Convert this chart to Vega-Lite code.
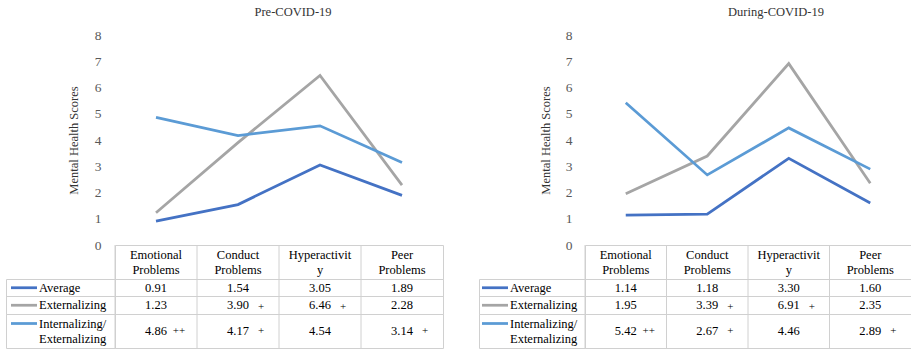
{
  "$schema": "https://vega.github.io/schema/vega-lite/v6.json",
  "padding": {"left": 5, "top": 5, "right": 0, "bottom": 0},
  "background": "white",
  "config": {
    "view": {"stroke": null},
    "text": {"font": "Liberation Serif", "fontSize": 12.5, "color": "#000000"},
    "rule": {"color": "#d0d0d0", "strokeWidth": 1}
  },
  "datasets": {
    "scores": [
      {"period": "Pre-COVID-19", "series": "Average", "problem": "Emotional Problems", "score": 0.91, "sig": ""},
      {"period": "Pre-COVID-19", "series": "Average", "problem": "Conduct Problems", "score": 1.54, "sig": ""},
      {"period": "Pre-COVID-19", "series": "Average", "problem": "Hyperactivity", "score": 3.05, "sig": ""},
      {"period": "Pre-COVID-19", "series": "Average", "problem": "Peer Problems", "score": 1.89, "sig": ""},
      {"period": "Pre-COVID-19", "series": "Externalizing", "problem": "Emotional Problems", "score": 1.23, "sig": ""},
      {"period": "Pre-COVID-19", "series": "Externalizing", "problem": "Conduct Problems", "score": 3.90, "sig": "+"},
      {"period": "Pre-COVID-19", "series": "Externalizing", "problem": "Hyperactivity", "score": 6.46, "sig": "+"},
      {"period": "Pre-COVID-19", "series": "Externalizing", "problem": "Peer Problems", "score": 2.28, "sig": ""},
      {"period": "Pre-COVID-19", "series": "Internalizing/Externalizing", "problem": "Emotional Problems", "score": 4.86, "sig": "++"},
      {"period": "Pre-COVID-19", "series": "Internalizing/Externalizing", "problem": "Conduct Problems", "score": 4.17, "sig": "+"},
      {"period": "Pre-COVID-19", "series": "Internalizing/Externalizing", "problem": "Hyperactivity", "score": 4.54, "sig": ""},
      {"period": "Pre-COVID-19", "series": "Internalizing/Externalizing", "problem": "Peer Problems", "score": 3.14, "sig": "+"},
      {"period": "During-COVID-19", "series": "Average", "problem": "Emotional Problems", "score": 1.14, "sig": ""},
      {"period": "During-COVID-19", "series": "Average", "problem": "Conduct Problems", "score": 1.18, "sig": ""},
      {"period": "During-COVID-19", "series": "Average", "problem": "Hyperactivity", "score": 3.30, "sig": ""},
      {"period": "During-COVID-19", "series": "Average", "problem": "Peer Problems", "score": 1.60, "sig": ""},
      {"period": "During-COVID-19", "series": "Externalizing", "problem": "Emotional Problems", "score": 1.95, "sig": ""},
      {"period": "During-COVID-19", "series": "Externalizing", "problem": "Conduct Problems", "score": 3.39, "sig": "+"},
      {"period": "During-COVID-19", "series": "Externalizing", "problem": "Hyperactivity", "score": 6.91, "sig": "+"},
      {"period": "During-COVID-19", "series": "Externalizing", "problem": "Peer Problems", "score": 2.35, "sig": ""},
      {"period": "During-COVID-19", "series": "Internalizing/Externalizing", "problem": "Emotional Problems", "score": 5.42, "sig": "++"},
      {"period": "During-COVID-19", "series": "Internalizing/Externalizing", "problem": "Conduct Problems", "score": 2.67, "sig": "+"},
      {"period": "During-COVID-19", "series": "Internalizing/Externalizing", "problem": "Hyperactivity", "score": 4.46, "sig": ""},
      {"period": "During-COVID-19", "series": "Internalizing/Externalizing", "problem": "Peer Problems", "score": 2.89, "sig": "+"}
    ],
    "headers": [
      {"problem": "Emotional Problems", "header": "Emotional\nProblems"},
      {"problem": "Conduct Problems", "header": "Conduct\nProblems"},
      {"problem": "Hyperactivity", "header": "Hyperactivit\ny"},
      {"problem": "Peer Problems", "header": "Peer\nProblems"}
    ],
    "rowlabels": [
      {"series": "Average", "label": "Average"},
      {"series": "Externalizing", "label": "Externalizing"},
      {"series": "Internalizing/Externalizing", "label": "Internalizing/\nExternalizing"}
    ]
  },
  "columns": 5,
  "spacing": 0,
  "bounds": "flush",
  "align": "each",
  "concat": [
    {"width": 109, "height": 1, "data": {"values": [{}]}, "mark": "text", "encoding": {"text": {"value": ""}}},
    {
      "width": 328, "height": 210,
      "title": {"text": "Pre-COVID-19", "frame": "group", "dx": 14, "offset": 10, "font": "Liberation Serif", "fontSize": 12.5, "fontWeight": "normal", "color": "#333333"},
      "data": {"name": "scores"},
      "transform": [{"filter": "datum.period === 'Pre-COVID-19'"}],
      "mark": {"type": "line", "strokeWidth": 2.75},
      "encoding": {
        "x": {"field": "problem", "type": "nominal", "scale": {"type": "point", "domain": ["Emotional Problems", "Conduct Problems", "Hyperactivity", "Peer Problems"], "padding": 0.5}, "axis": null},
        "y": {"field": "score", "type": "quantitative", "scale": {"domain": [0, 8], "nice": false},
          "axis": {"title": "Mental Health Scores", "values": [0, 1, 2, 3, 4, 5, 6, 7, 8], "format": "d", "grid": false, "domain": false, "ticks": false,
            "labelFont": "Liberation Serif", "labelFontSize": 13.5, "labelColor": "#595959", "labelPadding": 14,
            "titleFont": "Liberation Serif", "titleFontSize": 12.5, "titleFontWeight": "normal", "titleColor": "#333333", "titlePadding": 14}},
        "color": {"field": "series", "type": "nominal", "scale": {"domain": ["Average", "Externalizing", "Internalizing/Externalizing"], "range": ["#4472C4", "#A5A5A5", "#5B9BD5"]}, "legend": null}
      }
    },
    {"width": 36, "height": 1, "data": {"values": [{}]}, "mark": "text", "encoding": {"text": {"value": ""}}},
    {"width": 106, "height": 1, "data": {"values": [{}]}, "mark": "text", "encoding": {"text": {"value": ""}}},
    {
      "width": 326, "height": 210,
      "title": {"text": "During-COVID-19", "frame": "group", "dx": 28, "offset": 10, "font": "Liberation Serif", "fontSize": 12.5, "fontWeight": "normal", "color": "#333333"},
      "data": {"name": "scores"},
      "transform": [{"filter": "datum.period === 'During-COVID-19'"}],
      "mark": {"type": "line", "strokeWidth": 2.75},
      "encoding": {
        "x": {"field": "problem", "type": "nominal", "scale": {"type": "point", "domain": ["Emotional Problems", "Conduct Problems", "Hyperactivity", "Peer Problems"], "padding": 0.5}, "axis": null},
        "y": {"field": "score", "type": "quantitative", "scale": {"domain": [0, 8], "nice": false},
          "axis": {"title": "Mental Health Scores", "values": [0, 1, 2, 3, 4, 5, 6, 7, 8], "format": "d", "grid": false, "domain": false, "ticks": false,
            "labelFont": "Liberation Serif", "labelFontSize": 13.5, "labelColor": "#595959", "labelPadding": 13,
            "titleFont": "Liberation Serif", "titleFontSize": 12.5, "titleFontWeight": "normal", "titleColor": "#333333", "titlePadding": 13}},
        "color": {"field": "series", "type": "nominal", "scale": {"domain": ["Average", "Externalizing", "Internalizing/Externalizing"], "range": ["#4472C4", "#A5A5A5", "#5B9BD5"]}, "legend": null}
      }
    },

    {"width": 109, "height": 1, "data": {"values": [{}]}, "mark": "text", "encoding": {"text": {"value": ""}}},
    {
      "width": 328, "height": 34, "view": {"stroke": "#d0d0d0"},
      "data": {"name": "headers"},
      "layer": [
        {"mark": {"type": "rule"}, "encoding": {"x": {"field": "problem", "type": "nominal", "bandPosition": 0, "scale": {"type": "band", "domain": ["Emotional Problems", "Conduct Problems", "Hyperactivity", "Peer Problems"], "paddingInner": 0, "paddingOuter": 0}, "axis": null}}},
        {"mark": {"type": "text", "lineBreak": "\n", "lineHeight": 15, "dy": -7.5}, "encoding": {"x": {"field": "problem", "type": "nominal", "scale": {"type": "band", "domain": ["Emotional Problems", "Conduct Problems", "Hyperactivity", "Peer Problems"], "paddingInner": 0, "paddingOuter": 0}, "axis": null}, "text": {"field": "header"}}}
      ]
    },
    {"width": 36, "height": 1, "data": {"values": [{}]}, "mark": "text", "encoding": {"text": {"value": ""}}},
    {"width": 106, "height": 1, "data": {"values": [{}]}, "mark": "text", "encoding": {"text": {"value": ""}}},
    {
      "width": 326, "height": 34, "view": {"stroke": "#d0d0d0"},
      "data": {"name": "headers"},
      "layer": [
        {"mark": {"type": "rule"}, "encoding": {"x": {"field": "problem", "type": "nominal", "bandPosition": 0, "scale": {"type": "band", "domain": ["Emotional Problems", "Conduct Problems", "Hyperactivity", "Peer Problems"], "paddingInner": 0, "paddingOuter": 0}, "axis": null}}},
        {"mark": {"type": "text", "lineBreak": "\n", "lineHeight": 15, "dy": -7.5}, "encoding": {"x": {"field": "problem", "type": "nominal", "scale": {"type": "band", "domain": ["Emotional Problems", "Conduct Problems", "Hyperactivity", "Peer Problems"], "paddingInner": 0, "paddingOuter": 0}, "axis": null}, "text": {"field": "header"}}}
      ]
    },

    {
      "width": 109, "height": 35, "view": {"stroke": "#d0d0d0"},
      "data": {"name": "rowlabels"},
      "transform": [{"filter": "datum.series !== 'Internalizing/Externalizing'"}],
      "layer": [
        {"transform": [{"filter": "datum.series === 'Externalizing'"}], "mark": {"type": "rule"}, "encoding": {"y": {"field": "series", "type": "nominal", "bandPosition": 0, "scale": {"type": "band", "domain": ["Average", "Externalizing"], "paddingInner": 0, "paddingOuter": 0}, "axis": null}}},
        {"mark": {"type": "text", "align": "left", "dx": -21.5}, "encoding": {"y": {"field": "series", "type": "nominal", "scale": {"type": "band", "domain": ["Average", "Externalizing"], "paddingInner": 0, "paddingOuter": 0}, "axis": null}, "text": {"field": "label"}}},
        {"mark": {"type": "point", "shape": "M-4.95,0H-2.35", "size": 400, "filled": false, "strokeWidth": 2.75, "opacity": 1}, "encoding": {"y": {"field": "series", "type": "nominal", "scale": {"type": "band", "domain": ["Average", "Externalizing"], "paddingInner": 0, "paddingOuter": 0}, "axis": null}, "color": {"field": "series", "type": "nominal", "scale": {"domain": ["Average", "Externalizing", "Internalizing/Externalizing"], "range": ["#4472C4", "#A5A5A5", "#5B9BD5"]}, "legend": null}}}
      ]
    },
    {
      "width": 328, "height": 35, "view": {"stroke": "#d0d0d0"},
      "data": {"name": "scores"},
      "transform": [{"filter": "datum.period === 'Pre-COVID-19' && datum.series !== 'Internalizing/Externalizing'"}],
      "layer": [
        {"transform": [{"filter": "datum.series === 'Average'"}], "mark": {"type": "rule"}, "encoding": {"x": {"field": "problem", "type": "nominal", "bandPosition": 0, "scale": {"type": "band", "domain": ["Emotional Problems", "Conduct Problems", "Hyperactivity", "Peer Problems"], "paddingInner": 0, "paddingOuter": 0}, "axis": null}}},
        {"transform": [{"filter": "datum.series === 'Externalizing' && datum.problem === 'Emotional Problems'"}], "mark": {"type": "rule"}, "encoding": {"y": {"field": "series", "type": "nominal", "bandPosition": 0, "scale": {"type": "band", "domain": ["Average", "Externalizing"], "paddingInner": 0, "paddingOuter": 0}, "axis": null}}},
        {"mark": {"type": "text"}, "encoding": {
          "x": {"field": "problem", "type": "nominal", "scale": {"type": "band", "domain": ["Emotional Problems", "Conduct Problems", "Hyperactivity", "Peer Problems"], "paddingInner": 0, "paddingOuter": 0}, "axis": null},
          "y": {"field": "series", "type": "nominal", "scale": {"type": "band", "domain": ["Average", "Externalizing"], "paddingInner": 0, "paddingOuter": 0}, "axis": null},
          "text": {"field": "score", "type": "quantitative", "format": ".2f"}}},
        {"transform": [{"filter": "datum.sig !== ''"}], "mark": {"type": "text", "dx": 23, "dy": 2, "fontSize": 11}, "encoding": {
          "x": {"field": "problem", "type": "nominal", "scale": {"type": "band", "domain": ["Emotional Problems", "Conduct Problems", "Hyperactivity", "Peer Problems"], "paddingInner": 0, "paddingOuter": 0}, "axis": null},
          "y": {"field": "series", "type": "nominal", "scale": {"type": "band", "domain": ["Average", "Externalizing"], "paddingInner": 0, "paddingOuter": 0}, "axis": null},
          "text": {"field": "sig"}}}
      ]
    },
    {"width": 36, "height": 1, "data": {"values": [{}]}, "mark": "text", "encoding": {"text": {"value": ""}}},
    {
      "width": 106, "height": 35, "view": {"stroke": "#d0d0d0"},
      "data": {"name": "rowlabels"},
      "transform": [{"filter": "datum.series !== 'Internalizing/Externalizing'"}],
      "layer": [
        {"transform": [{"filter": "datum.series === 'Externalizing'"}], "mark": {"type": "rule"}, "encoding": {"y": {"field": "series", "type": "nominal", "bandPosition": 0, "scale": {"type": "band", "domain": ["Average", "Externalizing"], "paddingInner": 0, "paddingOuter": 0}, "axis": null}}},
        {"mark": {"type": "text", "align": "left", "dx": -22}, "encoding": {"y": {"field": "series", "type": "nominal", "scale": {"type": "band", "domain": ["Average", "Externalizing"], "paddingInner": 0, "paddingOuter": 0}, "axis": null}, "text": {"field": "label"}}},
        {"mark": {"type": "point", "shape": "M-5,0H-2.4", "size": 400, "filled": false, "strokeWidth": 2.75, "opacity": 1}, "encoding": {"y": {"field": "series", "type": "nominal", "scale": {"type": "band", "domain": ["Average", "Externalizing"], "paddingInner": 0, "paddingOuter": 0}, "axis": null}, "color": {"field": "series", "type": "nominal", "scale": {"domain": ["Average", "Externalizing", "Internalizing/Externalizing"], "range": ["#4472C4", "#A5A5A5", "#5B9BD5"]}, "legend": null}}}
      ]
    },
    {
      "width": 326, "height": 35, "view": {"stroke": "#d0d0d0"},
      "data": {"name": "scores"},
      "transform": [{"filter": "datum.period === 'During-COVID-19' && datum.series !== 'Internalizing/Externalizing'"}],
      "layer": [
        {"transform": [{"filter": "datum.series === 'Average'"}], "mark": {"type": "rule"}, "encoding": {"x": {"field": "problem", "type": "nominal", "bandPosition": 0, "scale": {"type": "band", "domain": ["Emotional Problems", "Conduct Problems", "Hyperactivity", "Peer Problems"], "paddingInner": 0, "paddingOuter": 0}, "axis": null}}},
        {"transform": [{"filter": "datum.series === 'Externalizing' && datum.problem === 'Emotional Problems'"}], "mark": {"type": "rule"}, "encoding": {"y": {"field": "series", "type": "nominal", "bandPosition": 0, "scale": {"type": "band", "domain": ["Average", "Externalizing"], "paddingInner": 0, "paddingOuter": 0}, "axis": null}}},
        {"mark": {"type": "text"}, "encoding": {
          "x": {"field": "problem", "type": "nominal", "scale": {"type": "band", "domain": ["Emotional Problems", "Conduct Problems", "Hyperactivity", "Peer Problems"], "paddingInner": 0, "paddingOuter": 0}, "axis": null},
          "y": {"field": "series", "type": "nominal", "scale": {"type": "band", "domain": ["Average", "Externalizing"], "paddingInner": 0, "paddingOuter": 0}, "axis": null},
          "text": {"field": "score", "type": "quantitative", "format": ".2f"}}},
        {"transform": [{"filter": "datum.sig !== ''"}], "mark": {"type": "text", "dx": 23, "dy": 2, "fontSize": 11}, "encoding": {
          "x": {"field": "problem", "type": "nominal", "scale": {"type": "band", "domain": ["Emotional Problems", "Conduct Problems", "Hyperactivity", "Peer Problems"], "paddingInner": 0, "paddingOuter": 0}, "axis": null},
          "y": {"field": "series", "type": "nominal", "scale": {"type": "band", "domain": ["Average", "Externalizing"], "paddingInner": 0, "paddingOuter": 0}, "axis": null},
          "text": {"field": "sig"}}}
      ]
    },

    {
      "width": 109, "height": 34, "view": {"stroke": "#d0d0d0"},
      "data": {"name": "rowlabels"},
      "transform": [{"filter": "datum.series === 'Internalizing/Externalizing'"}],
      "layer": [
        {"mark": {"type": "text", "align": "left", "dx": -21.5, "dy": -7.5, "lineBreak": "\n", "lineHeight": 15}, "encoding": {"text": {"field": "label"}}},
        {"mark": {"type": "point", "shape": "M-4.95,-0.75H-2.35", "size": 400, "filled": false, "strokeWidth": 2.75, "opacity": 1}, "encoding": {"color": {"field": "series", "type": "nominal", "scale": {"domain": ["Average", "Externalizing", "Internalizing/Externalizing"], "range": ["#4472C4", "#A5A5A5", "#5B9BD5"]}, "legend": null}}}
      ]
    },
    {
      "width": 328, "height": 34, "view": {"stroke": "#d0d0d0"},
      "data": {"name": "scores"},
      "transform": [{"filter": "datum.period === 'Pre-COVID-19' && datum.series === 'Internalizing/Externalizing'"}],
      "layer": [
        {"mark": {"type": "rule"}, "encoding": {"x": {"field": "problem", "type": "nominal", "bandPosition": 0, "scale": {"type": "band", "domain": ["Emotional Problems", "Conduct Problems", "Hyperactivity", "Peer Problems"], "paddingInner": 0, "paddingOuter": 0}, "axis": null}}},
        {"mark": {"type": "text"}, "encoding": {
          "x": {"field": "problem", "type": "nominal", "scale": {"type": "band", "domain": ["Emotional Problems", "Conduct Problems", "Hyperactivity", "Peer Problems"], "paddingInner": 0, "paddingOuter": 0}, "axis": null},
          "text": {"field": "score", "type": "quantitative", "format": ".2f"}}},
        {"transform": [{"filter": "datum.sig !== ''"}], "mark": {"type": "text", "dx": 23, "dy": 0, "fontSize": 11}, "encoding": {
          "x": {"field": "problem", "type": "nominal", "scale": {"type": "band", "domain": ["Emotional Problems", "Conduct Problems", "Hyperactivity", "Peer Problems"], "paddingInner": 0, "paddingOuter": 0}, "axis": null},
          "text": {"field": "sig"}}}
      ]
    },
    {"width": 36, "height": 1, "data": {"values": [{}]}, "mark": "text", "encoding": {"text": {"value": ""}}},
    {
      "width": 106, "height": 34, "view": {"stroke": "#d0d0d0"},
      "data": {"name": "rowlabels"},
      "transform": [{"filter": "datum.series === 'Internalizing/Externalizing'"}],
      "layer": [
        {"mark": {"type": "text", "align": "left", "dx": -22, "dy": -7.5, "lineBreak": "\n", "lineHeight": 15}, "encoding": {"text": {"field": "label"}}},
        {"mark": {"type": "point", "shape": "M-5,-0.75H-2.4", "size": 400, "filled": false, "strokeWidth": 2.75, "opacity": 1}, "encoding": {"color": {"field": "series", "type": "nominal", "scale": {"domain": ["Average", "Externalizing", "Internalizing/Externalizing"], "range": ["#4472C4", "#A5A5A5", "#5B9BD5"]}, "legend": null}}}
      ]
    },
    {
      "width": 326, "height": 34, "view": {"stroke": "#d0d0d0"},
      "data": {"name": "scores"},
      "transform": [{"filter": "datum.period === 'During-COVID-19' && datum.series === 'Internalizing/Externalizing'"}],
      "layer": [
        {"mark": {"type": "rule"}, "encoding": {"x": {"field": "problem", "type": "nominal", "bandPosition": 0, "scale": {"type": "band", "domain": ["Emotional Problems", "Conduct Problems", "Hyperactivity", "Peer Problems"], "paddingInner": 0, "paddingOuter": 0}, "axis": null}}},
        {"mark": {"type": "text"}, "encoding": {
          "x": {"field": "problem", "type": "nominal", "scale": {"type": "band", "domain": ["Emotional Problems", "Conduct Problems", "Hyperactivity", "Peer Problems"], "paddingInner": 0, "paddingOuter": 0}, "axis": null},
          "text": {"field": "score", "type": "quantitative", "format": ".2f"}}},
        {"transform": [{"filter": "datum.sig !== ''"}], "mark": {"type": "text", "dx": 23, "dy": 0, "fontSize": 11}, "encoding": {
          "x": {"field": "problem", "type": "nominal", "scale": {"type": "band", "domain": ["Emotional Problems", "Conduct Problems", "Hyperactivity", "Peer Problems"], "paddingInner": 0, "paddingOuter": 0}, "axis": null},
          "text": {"field": "sig"}}}
      ]
    }
  ]
}
